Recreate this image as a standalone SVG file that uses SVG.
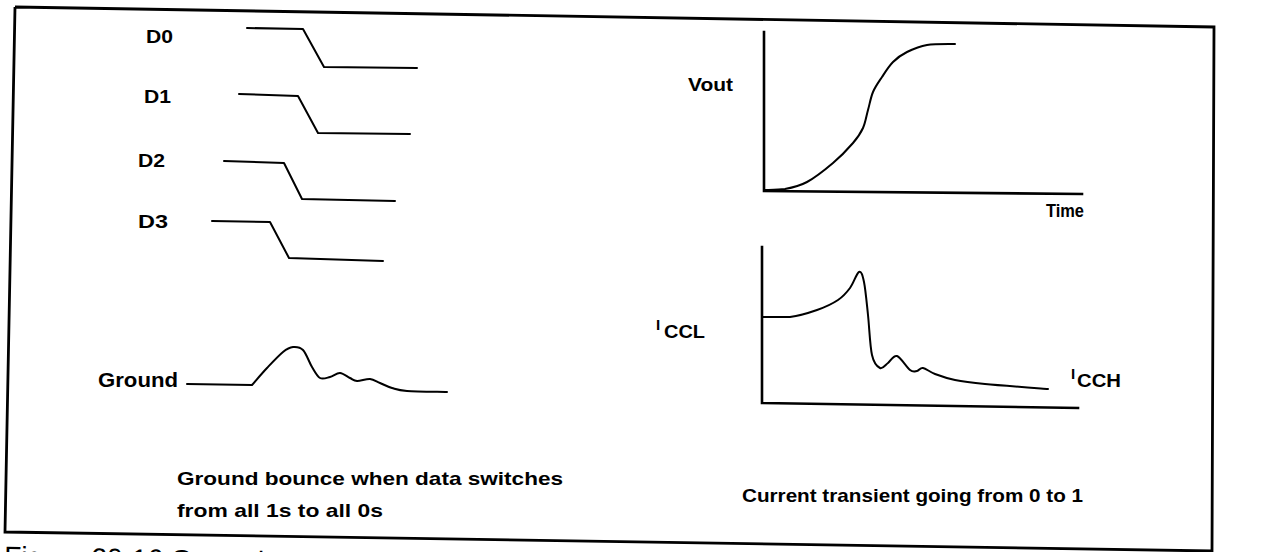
<svg xmlns="http://www.w3.org/2000/svg" width="1263" height="552" viewBox="0 0 1263 552">
<style>
.w{fill:none;stroke:#000;stroke-width:2;stroke-linejoin:round;stroke-linecap:round}
.ax{fill:none;stroke:#000;stroke-width:2.6;stroke-linecap:square}
.b{font-family:"Liberation Sans",Arial,sans-serif;font-weight:bold;fill:#000}
.r{font-family:"Liberation Sans",Arial,sans-serif;fill:#000}
</style>
<rect x="0" y="0" width="1263" height="552" fill="#fff"/>
<g id="frame">
<path d="M15,7 L1214,27 L1212,553 M1212,551 L5,532 L15,7" fill="none" stroke="#000" stroke-width="2.8"/>
</g>
<g id="d0">
<text class="b" x="146" y="43" font-size="19" textLength="27" lengthAdjust="spacingAndGlyphs">D0</text>
<path class="w" d="M247,28 L303,29 L324,67 L417,68"/>
</g>
<g id="d1">
<text class="b" x="144" y="103" font-size="19" textLength="27" lengthAdjust="spacingAndGlyphs">D1</text>
<path class="w" d="M239,94 L298,96 L318,133 L410,134"/>
</g>
<g id="d2">
<text class="b" x="138" y="167" font-size="19" textLength="27" lengthAdjust="spacingAndGlyphs">D2</text>
<path class="w" d="M224,161 L284,163 L302,199 L395,201"/>
</g>
<g id="d3">
<text class="b" x="138" y="228" font-size="19" textLength="30" lengthAdjust="spacingAndGlyphs">D3</text>
<path class="w" d="M212,221 L270,222 L289,258 L383,261"/>
</g>
<g id="ground">
<text class="b" x="98" y="387" font-size="20" textLength="80" lengthAdjust="spacingAndGlyphs">Ground</text>
<path class="w" d="M187,384 L252,385 C254.5,382.2 261.8,373.5 267,368 C272.2,362.5 278.7,355.5 283,352 C287.3,348.5 289.7,347.3 293,347 C296.3,346.7 299.8,346.7 303,350 C306.2,353.3 309.2,362.3 312,367 C314.8,371.7 317,376.3 320,378 C323,379.7 326.7,377.8 330,377 C333.3,376.2 336.7,372.8 340,373 C343.3,373.2 347.2,376.7 350,378 C352.8,379.3 353.7,380.8 357,381 C360.3,381.2 366.2,378.7 370,379 C373.8,379.3 376.3,381.5 380,383 C383.7,384.5 387.5,386.7 392,388 C396.5,389.3 397.8,390.3 407,391 C416.2,391.7 440.3,391.8 447,392"/>
</g>
<g id="caption-left">
<text class="b" x="177" y="485" font-size="19" textLength="386" lengthAdjust="spacingAndGlyphs">Ground bounce when data switches</text>
<text class="b" x="177" y="517" font-size="19" textLength="206" lengthAdjust="spacingAndGlyphs">from all 1s to all 0s</text>
</g>
<g id="vout-plot">
<text class="b" x="688" y="91" font-size="19" textLength="45" lengthAdjust="spacingAndGlyphs">Vout</text>
<path class="ax" d="M764,32 L764,191 L1082,194"/>
<path class="w" d="M764,190 C767.5,189.8 777.8,190 785,189 C792.2,187.7 799,186.3 807,182 C815,177.7 825.3,169.5 833,163 C840.7,156.5 848,148.8 853,143 C858,137.2 860.5,133.5 863,128 C865.5,122.5 866.3,116 868,110 C869.7,104 870.7,97.5 873,92 C875.3,86.5 878.7,82 882,77 C885.3,72 888.8,66.2 893,62 C897.2,57.8 901.3,54.8 907,52 C912.7,49.2 919,46.3 927,45 C935,43.7 950.3,44.2 955,44"/>
<text class="b" x="1046" y="217" font-size="18" textLength="38" lengthAdjust="spacingAndGlyphs">Time</text>
</g>
<g id="icc-plot">
<path class="ax" d="M762,247 L762,403 L1078,408"/>
<path class="w" d="M762,317 L790,317 C799.2,315.8 809,312.8 817,310 C825,307.2 832.5,303.7 838,300 C843.5,296.3 846.5,292.7 850,288 C853.5,283.3 856.7,273 859,272 C861.3,271 862.5,274.8 864,282 C865.5,289.2 866.7,302.8 868,315 C869.3,327.2 870,346.2 872,355 C874,363.8 877.3,366.7 880,368 C882.7,369.3 885.2,365 888,363 C890.8,361 893.3,354.8 897,356 C900.7,357.2 906.7,367.5 910,370 C913.3,372.5 914.8,371.3 917,371 C919.2,370.7 920,367.5 923,368 C926,368.5 929.7,372 935,374 C940.3,376 946.7,378.3 955,380 C963.3,381.7 969.5,382.5 985,384 C1000.5,385.5 1037.5,388.2 1048,389"/>
<text class="b" x="656" y="330" font-size="15">I</text>
<text class="b" x="664" y="338" font-size="19" textLength="41" lengthAdjust="spacingAndGlyphs">CCL</text>
<text class="b" x="1071" y="379" font-size="15">I</text>
<text class="b" x="1077" y="387" font-size="19" textLength="44" lengthAdjust="spacingAndGlyphs">CCH</text>
</g>
<g id="caption-right">
<text class="b" x="742" y="502" font-size="19" textLength="341" lengthAdjust="spacingAndGlyphs">Current transient going from 0 to 1</text>
</g>
<g id="figure-caption">
<text class="r" x="4" y="566" font-size="28" transform="rotate(1.1 4 566)">Figure 20-16  Ground B</text>
</g>
</svg>
